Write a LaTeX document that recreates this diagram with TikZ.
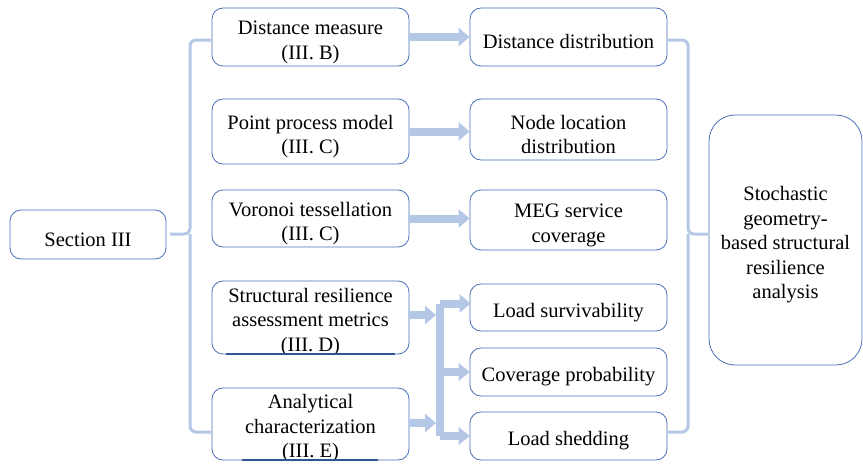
\documentclass[tikz,border=0pt]{standalone}
\usepackage{fontspec}
\setmainfont{Liberation Serif}
\usetikzlibrary{arrows.meta}
\definecolor{boxline}{HTML}{4A6FB8}
\definecolor{lightarrow}{HTML}{B4C7E7}
\definecolor{darkline}{HTML}{2F5597}
\newcommand\topst{\rule{0pt}{24pt}}
\newcommand\topsm{\rule{0pt}{18pt}}
\newcommand\nodepth[1]{\raisebox{0pt}[\height][0pt]{#1}}
\begin{document}
\begin{tikzpicture}[x=1pt,y=-1pt,
  box/.style={draw=boxline,line width=0.8pt,rounded corners=11pt,align=center,
    inner sep=0pt,font=\fontsize{20.5}{24.5}\selectfont},
  fatarrow/.style={draw=lightarrow,line width=8pt,-{Triangle[length=11pt,width=18pt]}},
  fatline/.style={draw=lightarrow,line width=8pt,line join=miter},
  bracestyle/.style={draw=lightarrow,line width=3pt,rounded corners=6pt},
  uline/.style={draw=darkline,line width=2.5pt}]
\useasboundingbox (0,0) rectangle (863,466);
% left node
\node[box,minimum width=156pt,minimum height=49pt] (sec) at (88,234.5) {\topst Section III};
% column 1
\node[box,minimum width=197pt,minimum height=58pt] (m1) at (310.5,37) {\topst Distance measure\\(III. B)};
\node[box,minimum width=197pt,minimum height=65pt] (m2) at (310.5,131.5) {\topst Point process model\\(III. C)};
\node[box,minimum width=197pt,minimum height=57pt] (m3) at (310.5,218.5) {\topst Voronoi tessellation\\(III. C)};
\node[box,minimum width=197pt,minimum height=73pt] (m4) at (310.5,317.5) {\topsm Structural resilience\\assessment metrics\\\nodepth{(III. D)}};
\node[box,minimum width=197pt,minimum height=72pt] (m5) at (310.5,424) {\topsm Analytical\\characterization\\\nodepth{(III. E)}};
% column 2
\node[box,minimum width=197pt,minimum height=58pt] (r1) at (568.5,37) {\topst Distance distribution};
\node[box,minimum width=197pt,minimum height=61pt] (r2) at (568.5,129.5) {\topst Node location\\distribution};
\node[box,minimum width=197pt,minimum height=60pt] (r3) at (568.5,220) {\topst MEG service\\coverage};
\node[box,minimum width=197pt,minimum height=47pt] (r4) at (568.5,307.5) {\topst Load survivability};
\node[box,minimum width=197pt,minimum height=48pt] (r5) at (568.5,372) {\topst Coverage probability};
\node[box,minimum width=197pt,minimum height=48pt] (r6) at (568.5,436) {\topst Load shedding};
% right node
\node[box,rounded corners=26pt,minimum width=153pt,minimum height=250pt] (res) at (785.5,240)
  {\topst Stochastic\\geometry-\\based structural\\resilience\\analysis};
% underlines
\draw[uline] (226,354) -- (395,354);
\draw[uline] (242,460) -- (378,460);
% arrows rows 1-3
\draw[fatarrow] (m1.east) -- (r1.west);
\draw[fatarrow] (m2.east) -- (m2.east -| r2.west);
\draw[fatarrow] (m3.east) -- (m3.east -| r3.west);
% merge rows 4-5
\coordinate (bt) at (440,303.5);
\coordinate (bb) at (440,436);
\draw[fatline] (bb) -- (bt);
\draw[fatarrow,shorten >=-1pt] (bt) -- (bt -| r4.west);
\draw[fatarrow] (440,372) -- (r5.west);
\draw[fatarrow] (bb) -- (r6.west);
\draw[fatarrow] (m4.east |- 0,315) -- (436,315);
\draw[fatarrow] (m5.east |- 0,423) -- (436,423);
% left brace
\coordinate (ltip) at (170,234);
\draw[bracestyle] (m1.west |- 0,40) -| (190,234) -- (ltip);
\draw[bracestyle] (m5.west |- 0,432) -| (190,234);
% right brace
\coordinate (rtip) at (708,234);
\draw[bracestyle] (r1.east |- 0,40) -| (688,234) -- (rtip);
\draw[bracestyle] (r6.east |- 0,432) -| (688,234);
\end{tikzpicture}
\end{document}
